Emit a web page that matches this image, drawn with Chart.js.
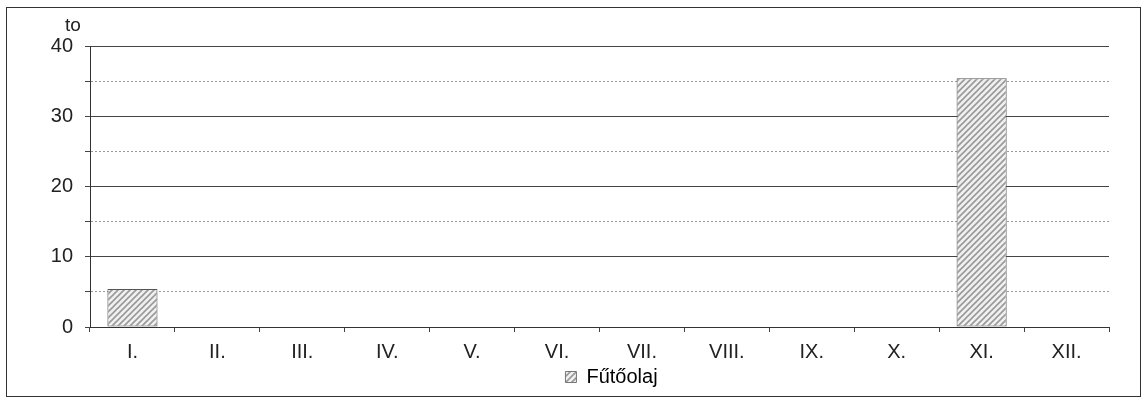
<!DOCTYPE html>
<html>
<head>
<meta charset="utf-8">
<script src="https://cdn.jsdelivr.net/npm/chart.js@4.4.1/dist/chart.umd.min.js"></script>
<style>
  html, body { margin: 0; padding: 0; background: #fff; }
  #wrap { position: relative; width: 1147px; height: 400px; }
  #frame { position: absolute; left: 6px; top: 7px; width: 1133px; height: 388px; border: 1.5px solid #333; }
  canvas { position: absolute; left: 0; top: 0; }
</style>
</head>
<body>
<div id="wrap">
  <div id="frame"></div>
  <canvas id="chart" width="1147" height="400"></canvas>
</div>
<script>
// Months (Roman numerals) and monthly heating oil amounts (to)
const MONTHS = ['I.', 'II.', 'III.', 'IV.', 'V.', 'VI.', 'VII.', 'VIII.', 'IX.', 'X.', 'XI.', 'XII.'];
const FUEL_OIL = [5.4, 0, 0, 0, 0, 0, 0, 0, 0, 0, 35.4, 0];
const SERIES_LABEL = 'Fűtőolaj';
const UNIT_LABEL = 'to';

const FONT = "'Liberation Sans', Arial, sans-serif";
const TEXT_COLOR = '#222';

// Diagonal hatch used for the bars and the legend box
const makeHatch = () => {
  const s = 6;
  const c = document.createElement('canvas');
  c.width = s; c.height = s;
  const g = c.getContext('2d');
  g.fillStyle = '#f0f0f0';
  g.fillRect(0, 0, s, s);
  g.strokeStyle = '#999';
  g.lineWidth = 1.6;
  g.beginPath();
  g.moveTo(0, s); g.lineTo(s, 0);
  g.moveTo(-1, 1); g.lineTo(1, -1);
  g.moveTo(s - 1, s + 1); g.lineTo(s + 1, s - 1);
  g.stroke();
  return g.createPattern(c, 'repeat');
};

// Small "to" unit caption above the y axis
const unitTitle = {
  id: 'unitTitle',
  afterDraw(chart) {
    const { ctx, chartArea } = chart;
    ctx.save();
    ctx.font = `19px ${FONT}`;
    ctx.fillStyle = TEXT_COLOR;
    ctx.textAlign = 'left';
    ctx.textBaseline = 'middle';
    ctx.fillText(UNIT_LABEL, chartArea.left - 25, chartArea.top - 20);
    ctx.restore();
  }
};

// The legend in the reference sits a bit right of the plot centre
const legendShift = {
  id: 'legendShift',
  afterLayout(chart) {
    if (chart.legend) {
      chart.legend.left += 37;
      chart.legend.right += 37;
    }
  }
};

const hatch = makeHatch();
const isMajor = v => v % 10 === 0;

new Chart(document.getElementById('chart').getContext('2d'), {
  type: 'bar',
  data: {
    labels: MONTHS,
    datasets: [{
      label: SERIES_LABEL,
      data: FUEL_OIL,
      backgroundColor: hatch,
      borderColor: '#555',
      borderWidth: ctx => (ctx.raw ? 1 : 0),
      borderSkipped: false,
      barPercentage: 0.59,
      categoryPercentage: 1
    }]
  },
  options: {
    responsive: false,
    animation: false,
    layout: { padding: { left: 40, right: 38, top: 46, bottom: 3 } },
    plugins: {
      tooltip: { enabled: false },
      legend: {
        position: 'bottom',
        labels: {
          font: { family: FONT, size: 20 },
          color: TEXT_COLOR,
          boxWidth: 11,
          boxHeight: 11,
          padding: 1,
          generateLabels: chart => [{
            text: SERIES_LABEL,
            fillStyle: hatch,
            strokeStyle: '#777',
            lineWidth: 1,
            datasetIndex: 0
          }]
        }
      }
    },
    scales: {
      x: {
        afterFit: scale => { scale.height = 39; },
        grid: {
          drawOnChartArea: false,
          drawTicks: true,
          tickLength: 5,
          tickColor: '#444',
          offset: true
        },
        border: { display: true, color: '#333', width: 1 },
        ticks: {
          font: { family: FONT, size: 20 },
          color: TEXT_COLOR,
          padding: 8
        }
      },
      y: {
        min: 0,
        max: 40,
        afterFit: scale => { scale.width = 50; },
        ticks: {
          stepSize: 5,
          font: { family: FONT, size: 20 },
          color: TEXT_COLOR,
          padding: 12,
          callback: v => (isMajor(v) ? v : '')
        },
        grid: {
          color: ctx => (ctx.tick && !isMajor(ctx.tick.value) ? '#9a9a9a' : '#444'),
          lineWidth: 1,
          tickLength: 5,
          tickColor: '#444',
          tickBorderDash: []
        },
        border: {
          display: true,
          color: '#333',
          width: 1,
          dash: ctx => (ctx.tick && !isMajor(ctx.tick.value) ? [2, 2] : [])
        }
      }
    }
  },
  plugins: [unitTitle, legendShift]
});
</script>
</body>
</html>
